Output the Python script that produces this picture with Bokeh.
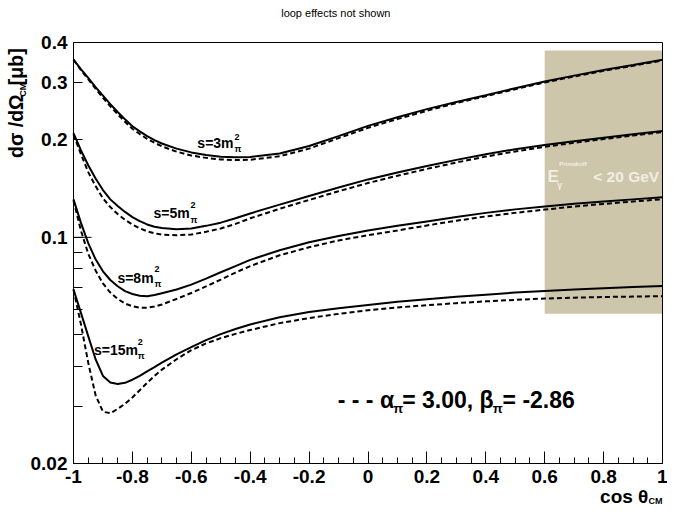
import math
from bokeh.plotting import figure
from bokeh.models import FixedTicker, CustomJSTickFormatter, Label, BoxAnnotation
from bokeh.embed import file_html
from bokeh.resources import INLINE

# ---------------- data ----------------
x_cos = [-1, -0.975, -0.95, -0.925, -0.9, -0.875, -0.85, -0.825, -0.8, -0.775, -0.75, -0.725, -0.7,
         -0.65, -0.6, -0.55, -0.5, -0.45, -0.4,
         -0.3, -0.2, -0.1, 0, 0.1, 0.2, 0.3, 0.4, 0.5, 0.6, 0.7, 0.8, 0.9, 1.0]

s3_solid = [0.354, 0.331, 0.311, 0.291, 0.274, 0.258, 0.244, 0.2315, 0.2205, 0.2125, 0.2055, 0.1998, 0.195,
            0.188, 0.183, 0.1795, 0.1775, 0.1768, 0.1772,
            0.1815, 0.1915, 0.2055, 0.221, 0.235, 0.249, 0.262, 0.275, 0.289, 0.303, 0.316, 0.329, 0.341, 0.354]
s3_dash = [0.354, 0.329, 0.308, 0.288, 0.270, 0.254, 0.240, 0.2275, 0.2165, 0.2085, 0.2015, 0.196, 0.191,
           0.184, 0.179, 0.176, 0.174, 0.1733, 0.1737,
           0.178, 0.188, 0.2025, 0.218, 0.232, 0.246, 0.26, 0.273, 0.287, 0.301, 0.314, 0.327, 0.339, 0.352]

s5_solid = [0.210, 0.186, 0.167, 0.152, 0.140, 0.131, 0.125, 0.1198, 0.1155, 0.1122, 0.1096, 0.1078, 0.1068,
            0.106, 0.1065, 0.1085, 0.111, 0.1145, 0.1185,
            0.1262, 0.1342, 0.1425, 0.151, 0.1585, 0.166, 0.1735, 0.1807, 0.1872, 0.193, 0.1982, 0.2032, 0.2082, 0.213]
s5_dash = [0.208, 0.181, 0.159, 0.144, 0.132, 0.124, 0.118, 0.1133, 0.1095, 0.1066, 0.1044, 0.1029, 0.102,
           0.1015, 0.102, 0.104, 0.1065, 0.110, 0.1145,
           0.1225, 0.1305, 0.1388, 0.1472, 0.155, 0.1627, 0.1703, 0.1776, 0.1843, 0.1904, 0.196, 0.2012, 0.2063, 0.2115]

s8_solid = [0.131, 0.111, 0.096, 0.0855, 0.0785, 0.0738, 0.0706, 0.0682, 0.0668, 0.0660, 0.0658, 0.0663, 0.0672,
            0.0690, 0.0714, 0.0745, 0.0780, 0.0815, 0.0852,
            0.0912, 0.0965, 0.101, 0.105, 0.1085, 0.112, 0.1155, 0.119, 0.122, 0.1245, 0.127, 0.129, 0.131, 0.133]
s8_dash = [0.130, 0.105, 0.089, 0.079, 0.0720, 0.0675, 0.0645, 0.0624, 0.0612, 0.0606, 0.0606, 0.0611, 0.0620,
           0.0645, 0.0673, 0.0705, 0.0740, 0.0778, 0.0815,
           0.0880, 0.0932, 0.0978, 0.1015, 0.105, 0.1088, 0.1125, 0.116, 0.119, 0.1218, 0.1245, 0.1268, 0.129, 0.1312]

s15_solid = [0.069, 0.0585, 0.0495, 0.0420, 0.0373, 0.0356, 0.0352, 0.0355, 0.0363, 0.0373, 0.0385, 0.0397, 0.0410,
             0.0435, 0.0458, 0.0481, 0.0502, 0.0521, 0.0538,
             0.0566, 0.0588, 0.0604, 0.0618, 0.0632, 0.0644, 0.0655, 0.0665, 0.0675, 0.0683, 0.0690, 0.0696, 0.0702, 0.0707]
s15_dash = [0.069, 0.054, 0.041, 0.0325, 0.0289, 0.0286, 0.0295, 0.0306, 0.0320, 0.0337, 0.0355, 0.0373, 0.0390,
            0.0420, 0.0448, 0.0470, 0.0488, 0.0503, 0.0517,
            0.0543, 0.0563, 0.0580, 0.0595, 0.0607, 0.0617, 0.0626, 0.0634, 0.0641, 0.0647, 0.0651, 0.0654, 0.0656, 0.0658]

band_x = [0.6, 1.0]
band_y = [0.058, 0.378]

xticks = [-1, -0.8, -0.6, -0.4, -0.2, 0, 0.2, 0.4, 0.6, 0.8, 1]
xtick_labels = ["-1", "-0.8", "-0.6", "-0.4", "-0.2", "0", "0.2", "0.4", "0.6", "0.8", "1"]
yticks = [0.02, 0.1, 0.2, 0.3, 0.4]
ytick_labels = ["0.02", "0.1", "0.2", "0.3", "0.4"]
yminor = [0.03, 0.04, 0.05, 0.06, 0.07, 0.08, 0.09]
ylong = [0.1]

# axis limits of the drawn box
X0, X1 = -1.0, 1.0
Y0, Y1 = 0.02, 0.4

FONT = "Liberation Sans"

# ---------------- layout ----------------
W, H = 667, 507
BL, BR, BT, BB = 73, 662, 42, 463          # box position on the canvas (px)
LLO, LHI = math.log10(Y0), math.log10(Y1)
dpx = (X1 - X0) / (BR - BL)
dpy = (LHI - LLO) / (BB - BT)
x_rng = (X0 - BL * dpx, X1 + (W - BR) * dpx)
y_rng = (10 ** (LLO - (H - BB) * dpy), 10 ** (LHI + BT * dpy))


# reference-picture pixel -> data coordinate (reference box: 74..678, 43..477)
def rx(px):
    return X0 + (X1 - X0) * (px - 74) / 604.0


def ry(py):
    return 10 ** (LLO + (477 - py) / 434.0 * (LHI - LLO))


p = figure(width=W, height=H, x_range=x_rng, y_range=y_rng, y_axis_type="log",
           output_backend="svg", toolbar_location=None, min_border=0)

p.xgrid.visible = False
p.ygrid.visible = False
p.background_fill_color = "white"
p.border_fill_color = "white"
p.outline_line_color = None

fmt_code = """
for (let i = 0; i < t.length; i++) {
  if (Math.abs(t[i] - tick) < 1e-9) { return l[i]; }
}
return '';
"""

xminor = [round(-1 + 0.05 * i, 2) for i in range(41) if i % 4]
ax = p.xaxis[0]
ax.fixed_location = Y0
ax.bounds = (X0, X1)
ax.ticker = FixedTicker(ticks=xticks, minor_ticks=xminor)
ax.formatter = CustomJSTickFormatter(args=dict(t=xticks, l=xtick_labels), code=fmt_code)
ax.major_tick_in = 12
ax.major_tick_out = 0
ax.minor_tick_in = 6
ax.minor_tick_out = 0
ax.major_label_standoff = 6

ay = p.yaxis[0]
ay.fixed_location = X0
ay.bounds = (Y0, Y1)
ay.ticker = FixedTicker(ticks=yticks, minor_ticks=yminor)
ay.formatter = CustomJSTickFormatter(args=dict(t=yticks, l=ytick_labels), code=fmt_code)
ay.major_tick_in = 9
ay.major_tick_out = 0
ay.minor_tick_in = 9
ay.minor_tick_out = 0
ay.major_label_standoff = 6

for a in (ax, ay):
    a.major_label_text_font = FONT
    a.major_label_text_font_style = "bold"
    a.major_label_text_font_size = "19px"
    a.major_label_text_color = "black"
    a.axis_line_color = "black"
    a.axis_line_width = 1
    a.major_tick_line_color = "black"
    a.minor_tick_line_color = "black"

# shaded band
p.quad(left=[band_x[0]], right=[band_x[1]], bottom=[band_y[0]], top=[band_y[1]],
       fill_color="#cdc6aa", line_color=None)

# longer decade tick at 0.1
p.ray(x=[X0] * len(ylong), y=ylong, length=18, length_units="screen", angle=0,
      line_color="black", line_width=1)

# curves
for solid, dash in [(s3_solid, s3_dash), (s5_solid, s5_dash),
                    (s8_solid, s8_dash), (s15_solid, s15_dash)]:
    p.line(x_cos, dash, line_color="black", line_width=2, line_dash="5 3")
    p.line(x_cos, solid, line_color="black", line_width=2)

# frame box of the plotted region
p.add_layout(BoxAnnotation(left=X0, right=X1, bottom=Y0, top=Y1, fill_alpha=0,
                           line_color="black", line_width=1, line_alpha=1))


def lab(text, px, py, size, align="left", bold=True, color="black", angle=0.0):
    p.add_layout(Label(x=rx(px), y=ry(py), text=text, text_font=FONT,
                       text_font_style="bold" if bold else "normal",
                       text_font_size=f"{size}px", text_align=align,
                       text_baseline="middle", text_color=color, angle=angle))


# title
lab("loop effects not shown", 343, 13, 11, align="center", bold=False)

# y-axis title (rotated)
lab("d\u03c3 /d\u03a9", 15, 162, 19.5, angle=math.pi / 2)
lab("CM", 22, 99, 9, angle=math.pi / 2)
lab(" [\u03bcb]", 15, 87, 19.5, angle=math.pi / 2)

# x-axis title
lab("cos \u03b8", 663.5, 511, 19, align="right")
lab("CM", 678, 516, 9, align="right")

# curve labels
for txt, lx, cy, sx, sup_y, sub_y in [("s=3m", 201, 147, 239, 140, 153),
                                      ("s=5m", 156, 219, 194, 211, 226),
                                      ("s=8m", 119, 286, 157, 277, 292),
                                      ("s=15m", 95, 360, 140, 352, 366)]:
    lab(txt, lx, cy, 14)
    lab("2", sx, sup_y, 9)
    lab("\u03c0", sx, sub_y, 9)

# band text
band_txt = "#f1eee5"
lab("E", 560, 181, 17, color=band_txt)
lab("Primakoff", 572, 168, 6, color=band_txt)
lab("\u03b3", 570, 190, 9, color=band_txt)
lab("< 20 GeV", 607, 181, 15.5, color=band_txt)

# legend text
lab("- - - \u03b1", 345, 412, 23)
lab("\u03c0", 402, 420, 13)
lab("= 3.00, \u03b2", 411, 412, 23)
lab("\u03c0", 504, 420, 13)
lab("= -2.86", 514, 412, 23)

open("out.html", "w").write(file_html(p, INLINE))
